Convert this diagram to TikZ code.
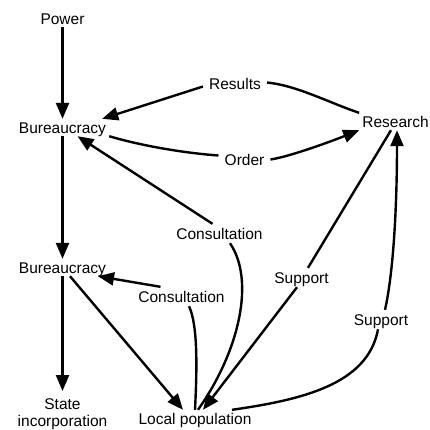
\documentclass[tikz,border=0pt]{standalone}
\usepackage{fontspec}
\setmainfont{Liberation Sans}
\usetikzlibrary{arrows.meta}
\begin{document}
\begin{tikzpicture}[x=1pt,y=-1pt,
  font=\fontsize{15.5}{17}\selectfont,
  box/.style={inner sep=3pt, text height=11pt, text depth=0pt, anchor=base},
  lbl/.style={inner xsep=6pt, inner ysep=4pt, text height=11pt, text depth=0pt, anchor=base},
  conn/.style={line width=2.4pt},
  arr/.style={conn, -{Triangle[length=16pt,width=13pt]}}]
\useasboundingbox (0,0) rectangle (430,429);
% main nodes
\node[box] (power) at (62.5,24) {Power};
\node[box] (bur1) at (62.5,133) {Bureaucracy};
\node[box] (research) at (395.5,127) {Research};
\node[box] (bur2) at (62.5,273) {Bureaucracy};
\node[box] (localpop) at (195,424) {Local population};
\node[inner sep=3pt, anchor=north, align=center] (state) at (62.5,395) {State\\incorporation};
% label nodes
\node[lbl] (results) at (235,89) {Results};
\node[lbl] (order) at (244.5,165) {Order};
\node[lbl] (consult1) at (219.5,239) {Consultation};
\node[lbl] (consult2) at (181.5,302) {Consultation};
\node[lbl] (support1) at (301.5,283) {Support};
\node[lbl] (support2) at (381,325) {Support};
% connectors
\draw[arr] (power) -- (bur1);
\draw[conn] ([yshift=1pt]results.east) .. controls +(30,3) and +(-30,-10) .. (research.north west);
\draw[arr] ([yshift=-3pt]results.west) -- ([xshift=-7pt]bur1.north east);
\draw[conn] (bur1.south east) .. controls +(37,11) and +(-28,-2) .. ([yshift=4pt]order.west);
\draw[arr] (order.east) .. controls +(20,-3) and +(-25,10) .. (research.south west);
\draw[arr] ([xshift=-7pt]consult1.north) -- ([xshift=15pt]bur1.south);
\draw[conn] ([xshift=10.5pt]consult1.south) .. controls (255,280) and (240,350) .. ([xshift=3pt]localpop.north);
\draw[arr] (bur1) -- (bur2);
\draw[arr] ([xshift=-21pt]consult2.north) -- ([xshift=35.5pt]bur2.south);
\draw[conn] ([xshift=7.5pt]consult2.south) .. controls (198,325) and (197,370) .. (localpop.north);
\draw[arr] ([xshift=7.5pt]bur2.south) -- ([xshift=-12pt]localpop.north);
\draw[arr] (bur2) -- ([yshift=4pt]state.north);
\draw[conn] ([xshift=-4.5pt]research.south) -- ([xshift=6.5pt]support1.north);
\draw[arr] ([xshift=-4.5pt]support1.south) -- ([xshift=8pt]localpop.north);
\draw[conn] ([xshift=37pt]localpop.north) .. controls (300,400) and (368,385) .. ([xshift=-3pt]support2.south);
\draw[arr] ([xshift=4pt]support2.north) .. controls (394,270) and (397,200) .. ([xshift=1.5pt]research.south);
\end{tikzpicture}
\end{document}
